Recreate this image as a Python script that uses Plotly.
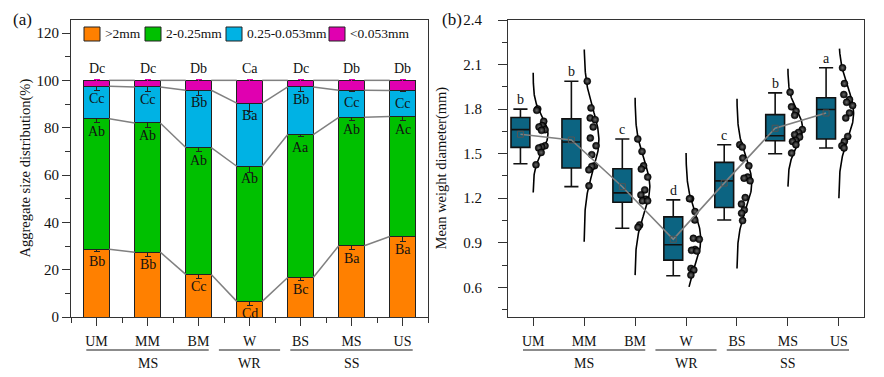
import numpy as np
import plotly.graph_objects as go

# page is rendered with the browser's default 8px body margin -> compensate
OFF = 8
W_PAGE, H_PAGE = 884, 377
W_FIG, H_FIG = W_PAGE - OFF, H_PAGE - OFF

# ---------------- data: panel (a) ----------------
categories = ["UM", "MM", "BM", "W", "BS", "MS", "US"]
groups = ["MS", "WR", "SS"]
group_members = [[0, 1, 2], [3], [4, 5, 6]]

fraction_names = [">2mm", "2-0.25mm", "0.25-0.053mm", "<0.053mm"]
frac_gt2 = [28.6, 27.4, 18.0, 6.6, 16.7, 30.1, 34.0]
frac_2_025 = [55.2, 54.6, 53.6, 57.1, 60.4, 54.3, 50.7]
frac_025_0053 = [13.7, 15.2, 24.2, 26.7, 20.1, 11.4, 11.0]
frac_lt0053 = [2.5, 2.8, 4.2, 9.6, 2.8, 4.2, 4.3]

err_gt2 = [1.0, 2.0, 1.8, 1.7, 1.2, 1.4, 2.0]
err_2_025 = [1.5, 2.0, 1.8, 2.5, 1.0, 1.4, 1.8]
err_025_0053 = [1.8, 2.0, 2.0, 3.5, 1.7, 0.6, 0.5]
err_lt0053 = [0.3, 0.3, 0.3, 0.3, 0.3, 0.3, 0.3]

letters_gt2 = ["Bb", "Bb", "Cc", "Cd", "Bc", "Ba", "Ba"]
letters_2_025 = ["Ab", "Ab", "Ab", "Ab", "Aa", "Ab", "Ac"]
letters_025_0053 = ["Cc", "Cc", "Bb", "Ba", "Bb", "Cc", "Cc"]
letters_lt0053 = ["Dc", "Dc", "Db", "Ca", "Dc", "Db", "Db"]

# ---------------- data: panel (b) ----------------
mwd_points = [
    [1.801, 1.792, 1.718, 1.689, 1.680, 1.661, 1.657, 1.553, 1.545, 1.538, 1.508, 1.425],
    [1.988, 1.808, 1.740, 1.729, 1.680, 1.605, 1.553, 1.493, 1.418, 1.414, 1.391, 1.283],
    [1.599, 1.515, 1.418, 1.396, 1.342, 1.256, 1.222, 1.193, 1.182, 1.182, 1.020, 1.004],
    [1.197, 1.197, 1.110, 1.053, 0.930, 0.923, 0.855, 0.849, 0.844, 0.727, 0.716, 0.682],
    [1.560, 1.545, 1.470, 1.418, 1.342, 1.335, 1.317, 1.204, 1.161, 1.121, 1.099, 1.049],
    [1.914, 1.815, 1.786, 1.758, 1.662, 1.643, 1.628, 1.612, 1.589, 1.582, 1.560, 1.504],
    [2.078, 1.972, 1.898, 1.864, 1.846, 1.824, 1.774, 1.740, 1.616, 1.582, 1.553, 1.538],
]
box_lowerfence = [1.432, 1.278, 0.998, 0.678, 1.053, 1.499, 1.538]
box_q1 = [1.542, 1.403, 1.173, 0.783, 1.137, 1.587, 1.599]
box_median = [1.662, 1.578, 1.236, 0.887, 1.317, 1.621, 1.797]
box_q3 = [1.743, 1.734, 1.398, 1.074, 1.441, 1.763, 1.876]
box_upperfence = [1.800, 1.988, 1.599, 1.189, 1.560, 1.909, 2.078]
curve_lo = [1.238, 0.907, 0.682, 0.603, 0.727, 1.278, 1.200]
curve_hi = [2.045, 2.202, 1.876, 1.504, 1.869, 2.072, 2.207]
mwd_letters = ["b", "b", "c", "d", "c", "b", "a"]

# ---------------- styles ----------------
FONT = "Liberation Serif"
TXT = "#111111"
bar_colors = ["#FF8000", "#00C000", "#00B2E4", "#E000B0"]
BOX_COLOR = "#0c6482"
AX = "#333333"


def px_x(p):
    """page pixel -> paper fraction"""
    return (p - OFF) / W_FIG


def px_y(p):
    return 1 - (p - OFF) / H_FIG


dom_y = [px_y(317), px_y(20)]
dom_xa = [px_x(71), px_x(428)]
dom_xb = [px_x(507.7), px_x(864.3)]

n = len(categories)
xpos = list(range(n))

fig = go.Figure()

# ---------------- panel (a): stacked bars ----------------
series = [frac_gt2, frac_2_025, frac_025_0053, frac_lt0053]
errs = [err_gt2, err_2_025, err_025_0053, err_lt0053]
letters = [letters_gt2, letters_2_025, letters_025_0053, letters_lt0053]
for k in range(4):
    fig.add_trace(go.Bar(
        x=xpos, y=series[k], name=fraction_names[k], width=0.5,
        marker=dict(color=bar_colors[k], line=dict(color="#222222", width=1)),
        error_y=dict(type="data", array=errs[k],
                     color=("#222222" if k < 3 else "#E000B0"),
                     thickness=1, width=3),
        showlegend=False, xaxis="x", yaxis="y", hoverinfo="skip"))

cums = np.cumsum(np.array(series), axis=0)
for k in range(4):
    lx, ly = [], []
    for i in range(n - 1):
        lx += [i + 0.25, i + 0.75, None]
        ly += [cums[k][i], cums[k][i + 1], None]
    fig.add_trace(go.Scatter(x=lx, y=ly, mode="lines",
                             line=dict(color="#808080", width=1.5),
                             showlegend=False, xaxis="x", yaxis="y", hoverinfo="skip"))

annotations = []
for k in range(4):
    for i in range(n):
        if k < 3:
            annotations.append(dict(x=i, y=cums[k][i], xref="x", yref="y", text=letters[k][i],
                                    showarrow=False, xanchor="center", yanchor="top", yshift=-3,
                                    font=dict(family=FONT, size=14, color=TXT)))
        else:
            annotations.append(dict(x=i, y=cums[k][i], xref="x", yref="y", text=letters[k][i],
                                    showarrow=False, xanchor="center", yanchor="bottom", yshift=2,
                                    font=dict(family=FONT, size=14, color=TXT)))

# ---------------- panel (b): boxes, curves, points ----------------
box_x = [i - 0.25 for i in xpos]
fig.add_trace(go.Box(
    x=box_x, q1=box_q1, median=box_median, q3=box_q3,
    lowerfence=box_lowerfence, upperfence=box_upperfence,
    width=0.37, whiskerwidth=0.75, fillcolor=BOX_COLOR,
    line=dict(color="#111111", width=1.6), boxpoints=False,
    showlegend=False, xaxis="x2", yaxis="y2", hoverinfo="skip"))

CURVE_W = 0.29
cx, cy, px_list, py_list = [], [], [], []
means = []
for i, pts in enumerate(mwd_points):
    arr = np.array(pts)
    m = arr.mean()
    s = arr.std(ddof=1)
    means.append(m)
    yy = np.linspace(curve_lo[i], curve_hi[i], 150)
    ww = CURVE_W * np.exp(-0.5 * ((yy - m) / s) ** 2)
    cx += list(i + ww) + [None]
    cy += list(yy) + [None]
    for j, v in enumerate(pts):
        u = ((j + 1) * 0.6180339 + i * 0.37) % 1.0
        w_here = CURVE_W * np.exp(-0.5 * ((v - m) / s) ** 2)
        px_list.append(i + 0.02 + w_here * (0.3 + 0.65 * u))
        py_list.append(v)

fig.add_trace(go.Scatter(x=cx, y=cy, mode="lines", line=dict(color="#000000", width=1.6),
                         showlegend=False, xaxis="x2", yaxis="y2", hoverinfo="skip"))
fig.add_trace(go.Scatter(x=px_list, y=py_list, mode="markers",
                         marker=dict(size=7, color="#000000",
                                     gradient=dict(type="radial", color="#6a6a6a"),
                                     line=dict(color="#000000", width=0.5)),
                         showlegend=False, xaxis="x2", yaxis="y2", hoverinfo="skip"))
fig.add_trace(go.Scatter(x=box_x, y=means, mode="lines+markers",
                         line=dict(color="#808080", width=1.6),
                         marker=dict(symbol="square-open", size=6, color="#555555",
                                     line=dict(width=1)),
                         showlegend=False, xaxis="x2", yaxis="y2", hoverinfo="skip"))

for i in range(n):
    annotations.append(dict(x=box_x[i], y=box_upperfence[i], xref="x2", yref="y2",
                            text=mwd_letters[i], showarrow=False,
                            xanchor="center", yanchor="bottom", yshift=0,
                            font=dict(family=FONT, size=14, color=TXT)))

# ---------------- groups under x axes ----------------
shapes = []
for xr in ["x", "x2"]:
    for g, mem in enumerate(group_members):
        pad = 0.2 if len(mem) > 1 else 0.6
        shapes.append(dict(type="line", xref=xr, yref="paper",
                           x0=mem[0] - pad, x1=mem[-1] + pad,
                           y0=px_y(350), y1=px_y(350),
                           line=dict(color="#666666", width=1.5)))
        annotations.append(dict(x=(mem[0] + mem[-1]) / 2, y=px_y(363), xref=xr, yref="paper",
                                text=groups[g], showarrow=False,
                                xanchor="center", yanchor="middle",
                                font=dict(family=FONT, size=14, color=TXT)))

# ---------------- custom legend (panel a) ----------------
leg_x = [84, 145, 226, 329]
for k in range(4):
    shapes.append(dict(type="rect", xref="paper", yref="paper",
                       x0=px_x(leg_x[k]), x1=px_x(leg_x[k] + 16),
                       y0=px_y(41), y1=px_y(27),
                       fillcolor=bar_colors[k], line=dict(color="#222222", width=1)))
    annotations.append(dict(x=px_x(leg_x[k] + 19), y=px_y(34), xref="paper", yref="paper",
                            text=fraction_names[k].replace("<", "&lt;").replace(">", "&gt;"),
                            showarrow=False, xanchor="left", yanchor="middle",
                            font=dict(family=FONT, size=13.5, color=TXT)))

# ---------------- titles & panel labels ----------------
mid_y = (dom_y[0] + dom_y[1]) / 2
annotations.append(dict(x=px_x(25), y=mid_y, xref="paper", yref="paper",
                        text="Aggregate size distribution(%)", textangle=-90, showarrow=False,
                        xanchor="center", yanchor="middle",
                        font=dict(family=FONT, size=14.5, color=TXT)))
annotations.append(dict(x=px_x(441), y=mid_y, xref="paper", yref="paper",
                        text="Mean weight diameter(mm)", textangle=-90, showarrow=False,
                        xanchor="center", yanchor="middle",
                        font=dict(family=FONT, size=14.5, color=TXT)))
annotations.append(dict(x=px_x(22), y=px_y(20), xref="paper", yref="paper", text="(a)",
                        showarrow=False, xanchor="center", yanchor="middle",
                        font=dict(family=FONT, size=17, color=TXT)))
annotations.append(dict(x=px_x(452), y=px_y(20), xref="paper", yref="paper", text="(b)",
                        showarrow=False, xanchor="center", yanchor="middle",
                        font=dict(family=FONT, size=17, color=TXT)))

tick_font = dict(family=FONT, size=14, color=TXT)
ytick_font = dict(family=FONT, size=15, color=TXT)
common_x = dict(range=[-0.5, 6.5], tickmode="array", tickvals=xpos, ticktext=categories,
                ticks="outside", ticklen=8, tickwidth=1.2, tickcolor=AX,
                showline=True, linecolor=AX, linewidth=1.2, mirror=True,
                showgrid=False, zeroline=False, tickfont=tick_font, ticklabelstandoff=3,
                fixedrange=True, automargin=False)

fig.update_layout(
    template="none",
    width=W_FIG, height=H_FIG, autosize=False,
    margin=dict(l=0, r=0, t=0, b=0, pad=0, autoexpand=False),
    paper_bgcolor="white", plot_bgcolor="white",
    barmode="stack", showlegend=False,
    font=dict(family=FONT, size=14, color=TXT),
    xaxis=dict(domain=dom_xa, anchor="y",
               minor=dict(tickmode="array", tickvals=[i - 0.5 for i in range(n + 1)],
                          ticks="outside", ticklen=5, tickwidth=1.2, tickcolor=AX),
               **common_x),
    yaxis=dict(domain=dom_y, anchor="x", range=[0, 125.5], tickmode="array",
               tickvals=[0, 20, 40, 60, 80, 100, 120],
               ticks="outside", ticklen=8, tickwidth=1.2, tickcolor=AX,
               minor=dict(tickmode="array", tickvals=[10, 30, 50, 70, 90, 110],
                          ticks="outside", ticklen=4.5, tickwidth=1.2, tickcolor=AX),
               showline=True, linecolor=AX, linewidth=1.2, mirror=True,
               showgrid=False, zeroline=False, tickfont=ytick_font, fixedrange=True,
               automargin=False),
    xaxis2=dict(domain=dom_xb, anchor="y2", **common_x),
    yaxis2=dict(domain=dom_y, anchor="x2", range=[0.4, 2.4], tickmode="array",
                tickvals=[0.6, 0.9, 1.2, 1.5, 1.8, 2.1, 2.4],
                ticktext=["0.6", "0.9", "1.2", "1.5", "1.8", "2.1", "2.4"],
                ticks="outside", ticklen=8.5, tickwidth=1.2, tickcolor=AX,
                minor=dict(tickmode="array", tickvals=[0.45, 0.75, 1.05, 1.35, 1.65, 1.95, 2.25],
                           ticks="outside", ticklen=4.5, tickwidth=1.2, tickcolor=AX),
                showline=True, linecolor=AX, linewidth=1.2, mirror=True,
                showgrid=False, zeroline=False, tickfont=ytick_font, ticklabelstandoff=13,
                fixedrange=True, automargin=False),
    shapes=shapes, annotations=annotations,
)

fig.write_html("out.html")
